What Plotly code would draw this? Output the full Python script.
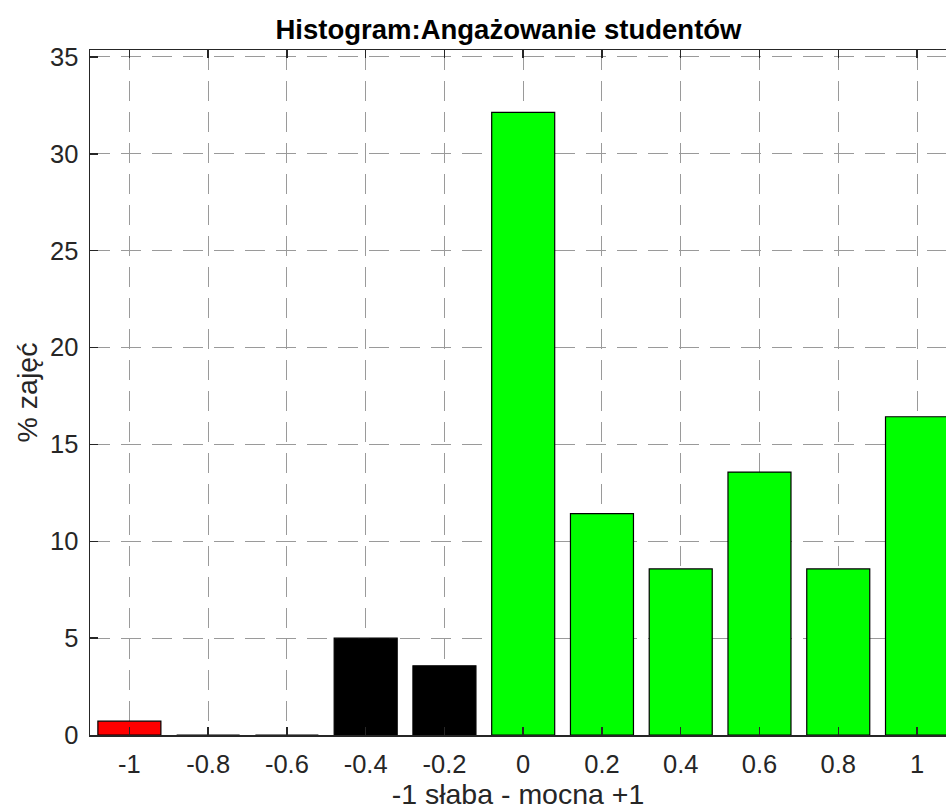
import plotly.graph_objects as go

categories = [-1, -0.8, -0.6, -0.4, -0.2, 0, 0.2, 0.4, 0.6, 0.8, 1]
tick_labels = ["-1", "-0.8", "-0.6", "-0.4", "-0.2", "0", "0.2", "0.4", "0.6", "0.8", "1"]
percent = [0.714, 0.0, 0.0, 5.0, 3.571, 32.143, 11.429, 8.571, 13.571, 8.571, 16.429]
bar_colors = ["#ff0000", "#000000", "#000000", "#000000", "#000000",
              "#00ff00", "#00ff00", "#00ff00", "#00ff00", "#00ff00", "#00ff00"]
y_ticks = [0, 5, 10, 15, 20, 25, 30, 35]

FONT = "Liberation Sans, Arial, sans-serif"
AX = "#262626"
GRID = "#9a9a9a"

W, H = 946, 812

fig = go.Figure(go.Bar(
    x=categories, y=percent, width=0.16,
    marker=dict(color=bar_colors, line=dict(color="#000000", width=1.2)),
    hoverinfo="skip",
))

fig.update_layout(
    width=W, height=H,
    margin=dict(l=90, r=0, t=50, b=77),
    paper_bgcolor="white", plot_bgcolor="white",
    showlegend=False,
    font=dict(family=FONT, size=25.5, color=AX),
    title=dict(text="<b>Histogram:Angażowanie studentów</b>",
               x=508.5 / W, xanchor="center", xref="container",
               y=1 - 29 / H, yanchor="middle", yref="container",
               font=dict(family=FONT, size=27.5, color="#000000")),
)

fig.update_xaxes(
    range=[-1.1, 1.0736],
    tickvals=categories, ticktext=tick_labels,
    tickfont=dict(size=25.5, color=AX),
    ticks="inside", ticklen=8, tickwidth=1.5, tickcolor=AX,
    showline=True, linecolor=AX, linewidth=1.5, mirror="ticks",
    showgrid=True, gridcolor=GRID, gridwidth=1, griddash="20px,11px",
    zeroline=False, ticklabelstandoff=6,
    title=dict(text="-1 słaba - mocna +1", standoff=2, font=dict(size=28.5, color=AX)),
)

fig.update_yaxes(
    range=[0, 35.36],
    tickvals=y_ticks,
    tickfont=dict(size=25.5, color=AX),
    ticks="inside", ticklen=8, tickwidth=1.5, tickcolor=AX,
    showline=True, linecolor=AX, linewidth=1.5, mirror=False,
    showgrid=True, gridcolor=GRID, gridwidth=1, griddash="20px,11px",
    zeroline=False, ticklabelstandoff=5,
    title=dict(text="% zajęć", standoff=4, font=dict(size=28.5, color=AX)),
)

fig.write_html(
    "out.html",
    config={"displayModeBar": False, "staticPlot": True},
    post_script="document.body.style.margin='0px';document.body.style.overflow='hidden';",
)
